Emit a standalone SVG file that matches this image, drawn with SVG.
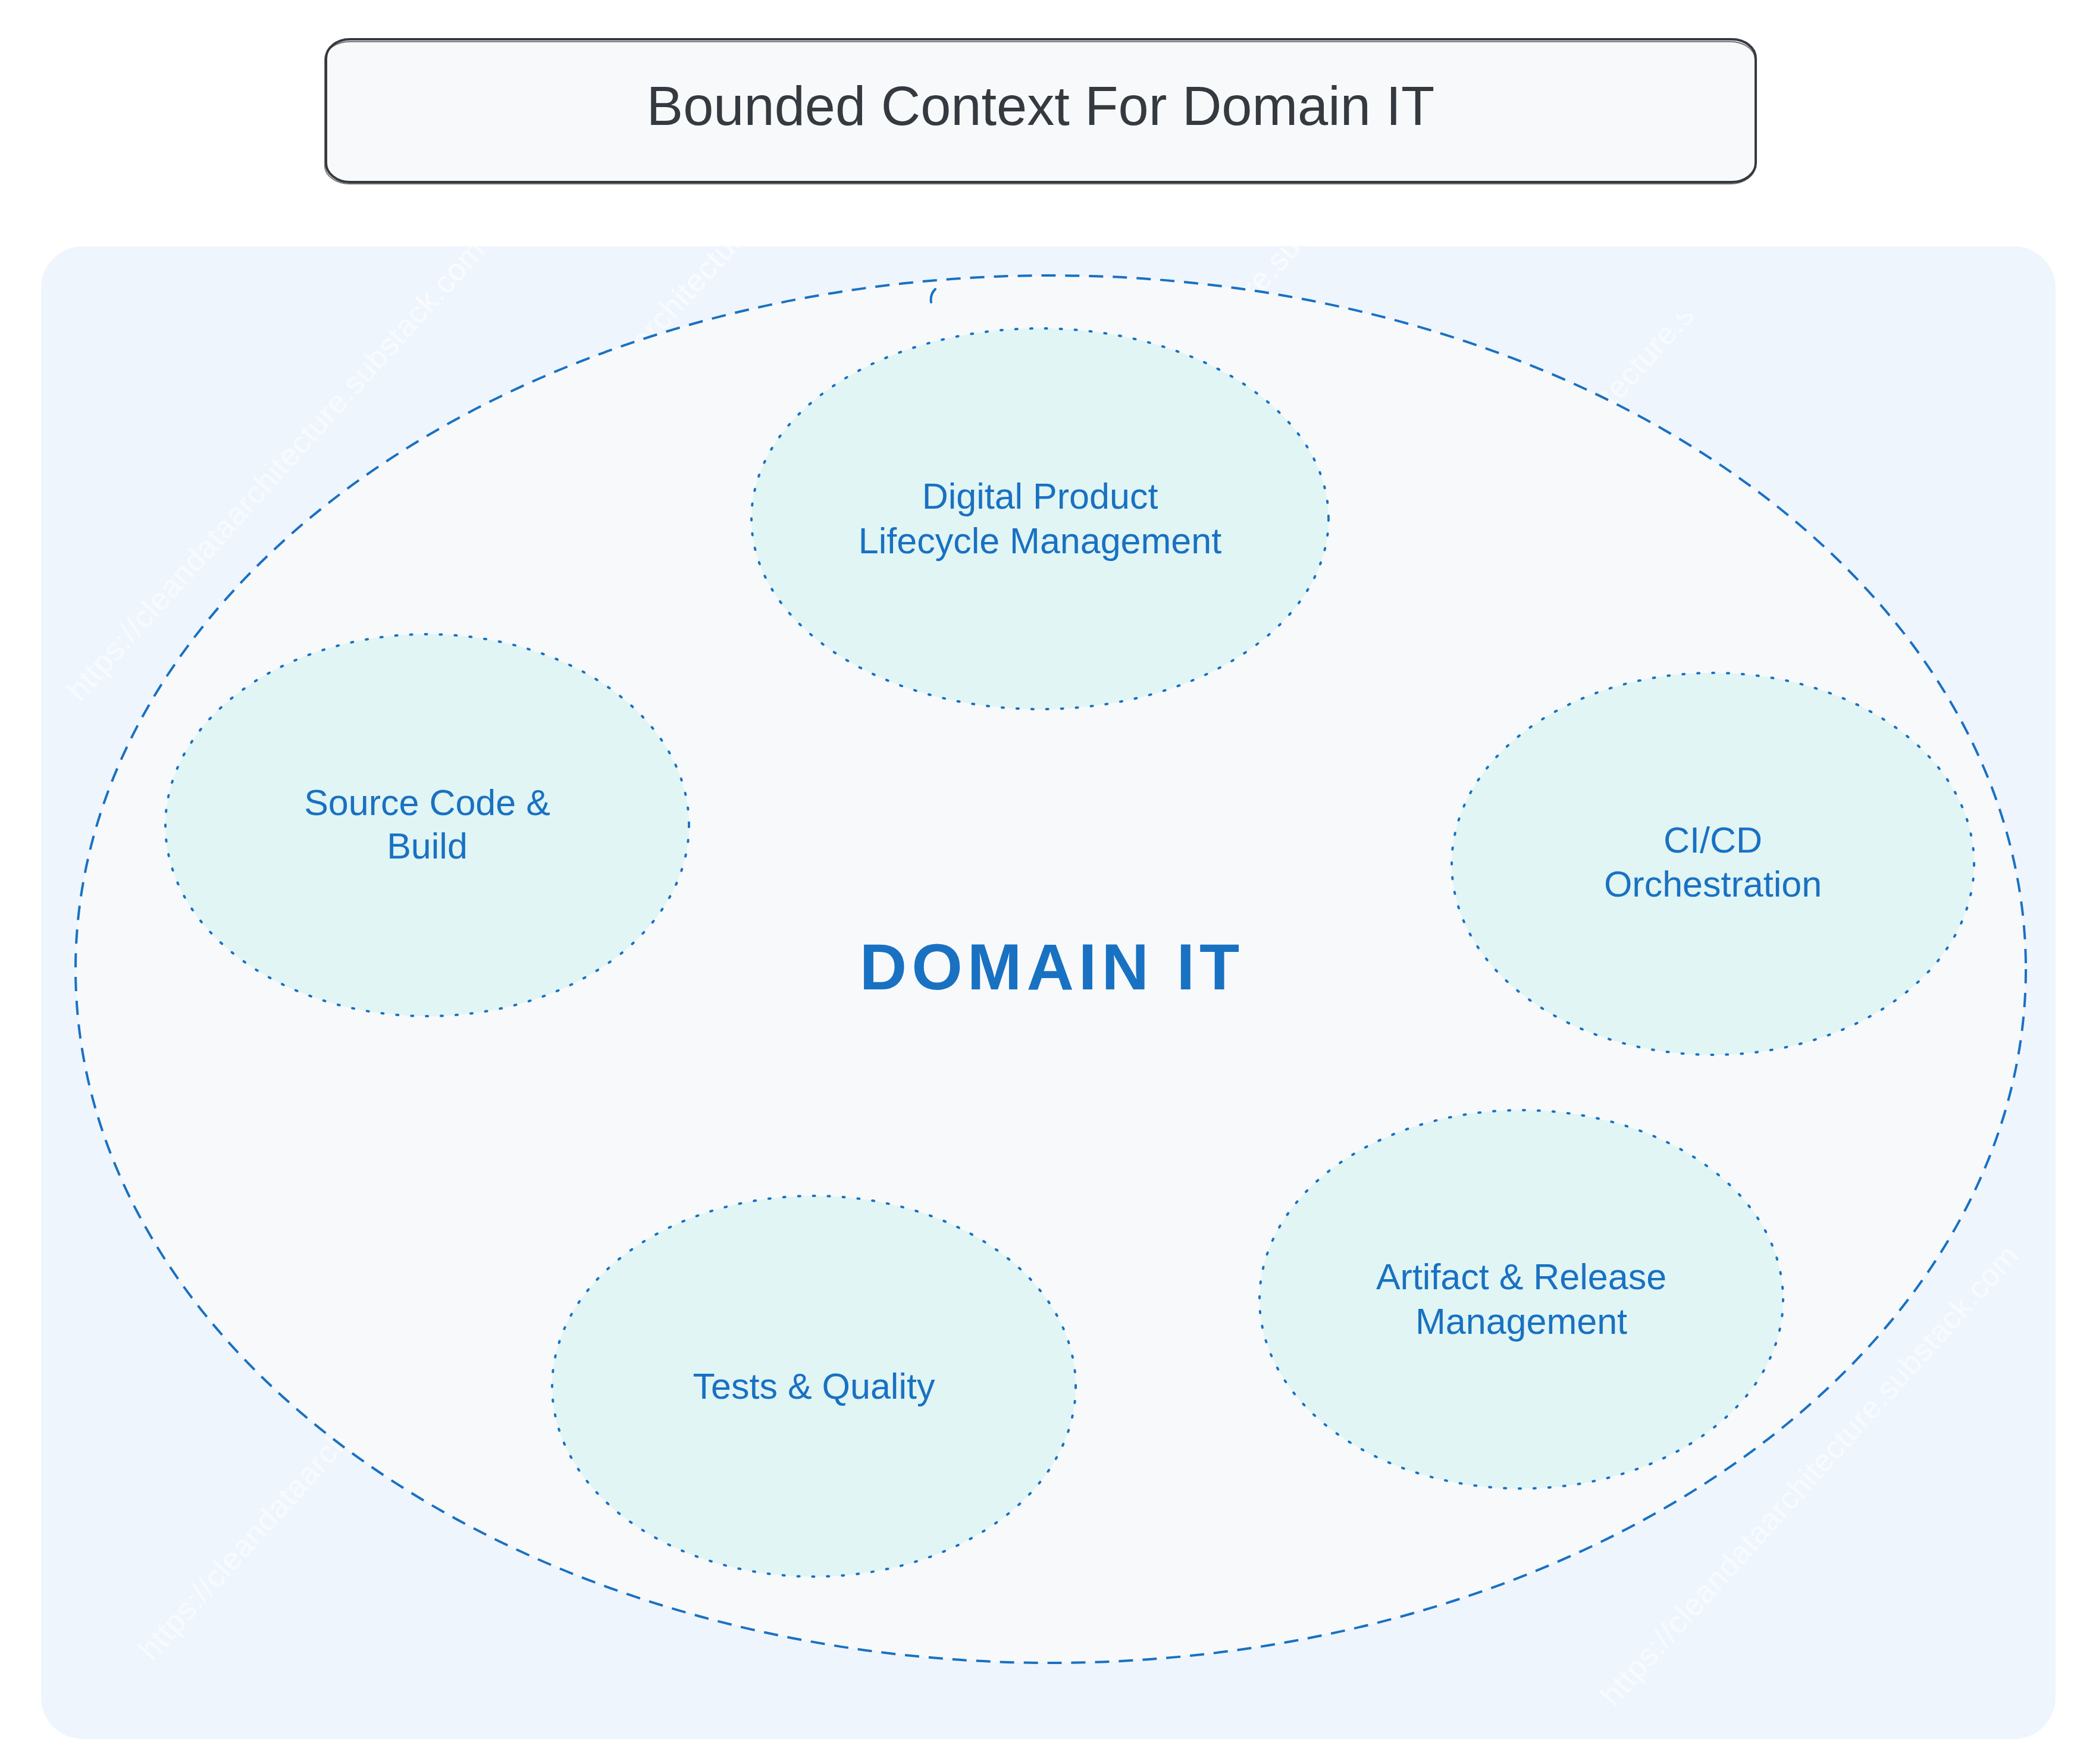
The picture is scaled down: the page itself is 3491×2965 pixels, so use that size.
<svg xmlns="http://www.w3.org/2000/svg" width="3491" height="2965" viewBox="0 0 3491 2965">
  <defs>
    <style>
      .wm { font-family: "Liberation Sans", Arial, sans-serif; font-size: 52px; fill: #ffffff; opacity: 0.6; }
      .lbl { font-family: "Liberation Sans", Arial, sans-serif; font-size: 61px; fill: #1971c2; text-anchor: middle; }
      .ctx { fill: #e1f5f5; stroke: #1971c2; stroke-width: 4; stroke-dasharray: 3 22; stroke-linecap: round; }
      .title { font-family: "Liberation Sans", Arial, sans-serif; font-size: 92px; fill: #343a40; text-anchor: middle; }
    </style>
    <clipPath id="clipBox"><rect x="69" y="414" width="3386" height="2509" rx="70" ry="70"/></clipPath>
    <clipPath id="clipD"><rect x="0" y="528" width="2900" height="2437"/></clipPath>
  </defs>

  <rect x="0" y="0" width="3491" height="2965" fill="#ffffff"/>

  <g id="title">
    <rect x="548" y="66" width="2403" height="240" rx="40" ry="32" fill="#f8f9fa" stroke="#343a40" stroke-width="4"/>
    <rect x="546" y="70" width="2404" height="239" rx="42" ry="30" fill="none" stroke="#343a40" stroke-width="2" opacity="0.7"/>
    <text class="title" x="1749" y="210">Bounded Context For Domain IT</text>
  </g>

  <g id="container">
    <rect x="69" y="414" width="3386" height="2509" rx="70" ry="70" fill="#eff5fd"/>
  </g>

  <g id="watermarks" clip-path="url(#clipBox)">
    <text class="wm" textLength="1020" lengthAdjust="spacing" transform="translate(135,1181) rotate(-48)">https://cleandataarchitecture.substack.com</text>
    <text class="wm" textLength="1020" lengthAdjust="spacing" transform="translate(818,888) rotate(-48)">https://cleandataarchitecture.substack.com</text>
    <text class="wm" textLength="1020" lengthAdjust="spacing" transform="translate(1688,974) rotate(-48)">https://cleandataarchitecture.substack.com</text>
    <g clip-path="url(#clipD)">
      <text class="wm" textLength="1020" lengthAdjust="spacing" transform="translate(2369,1066) rotate(-48)">https://cleandataarchitecture.substack.com</text>
    </g>
    <text class="wm" textLength="1020" lengthAdjust="spacing" transform="translate(256,2794) rotate(-48)">https://cleandataarchitecture.substack.com</text>
    <text class="wm" textLength="1020" lengthAdjust="spacing" transform="translate(2713,2871) rotate(-48)">https://cleandataarchitecture.substack.com</text>
  </g>

  <g id="domain-it">
    <ellipse cx="1766" cy="1629" rx="1639" ry="1166" fill="#f7f9fb" stroke="#1971c2" stroke-width="4" stroke-dasharray="24 16"/>
    <path d="M1572,486 Q1563,495 1565,508" fill="none" stroke="#1971c2" stroke-width="4" stroke-linecap="round"/>
    <text x="1768" y="1663" font-family="Liberation Sans, Arial, sans-serif" font-size="110" font-weight="bold" letter-spacing="8" fill="#1971c2" text-anchor="middle">DOMAIN IT</text>
  </g>

  <g id="node-dplm">
    <ellipse class="ctx" cx="1748" cy="872" rx="485" ry="320"/>
    <text class="lbl" x="1748" y="855">Digital Product</text>
    <text class="lbl" x="1748" y="930">Lifecycle Management</text>
  </g>

  <g id="node-source-code">
    <ellipse class="ctx" cx="718" cy="1387" rx="440" ry="321"/>
    <text class="lbl" x="718" y="1370">Source Code &amp;</text>
    <text class="lbl" x="718" y="1443">Build</text>
  </g>

  <g id="node-cicd">
    <ellipse class="ctx" cx="2879" cy="1452" rx="439" ry="321"/>
    <text class="lbl" x="2879" y="1433">CI/CD</text>
    <text class="lbl" x="2879" y="1507">Orchestration</text>
  </g>

  <g id="node-artifact">
    <ellipse class="ctx" cx="2557" cy="2184" rx="440" ry="318"/>
    <text class="lbl" x="2557" y="2167">Artifact &amp; Release</text>
    <text class="lbl" x="2557" y="2242">Management</text>
  </g>

  <g id="node-tests">
    <ellipse class="ctx" cx="1368" cy="2330" rx="440" ry="320"/>
    <text class="lbl" x="1368" y="2351">Tests &amp; Quality</text>
  </g>

  <g id="connectors"/>
</svg>
